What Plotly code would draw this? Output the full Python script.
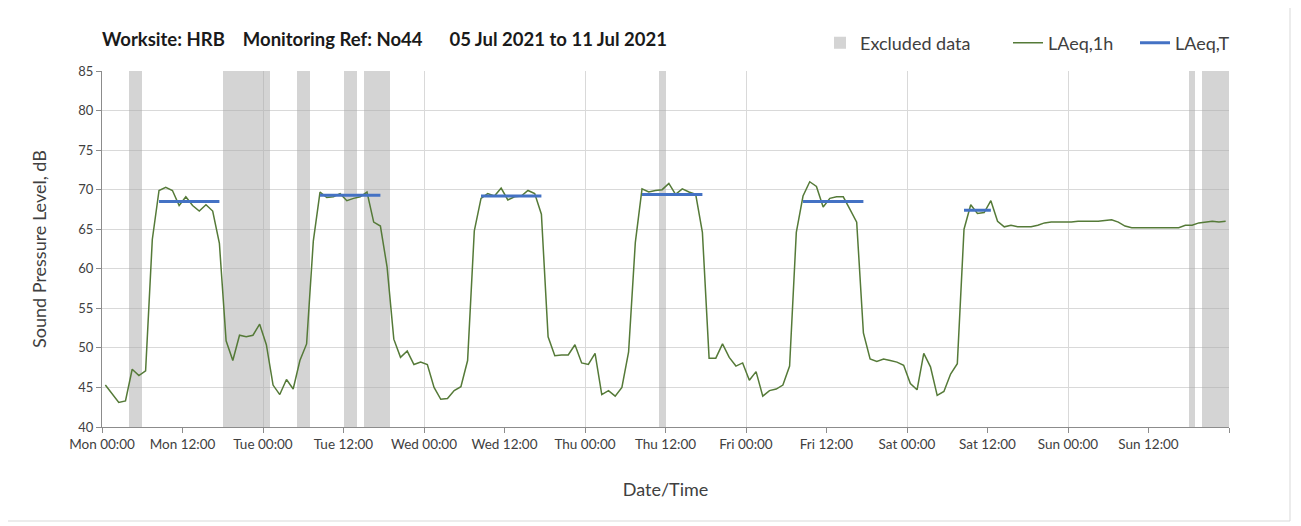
import numpy as np
import pandas as pd
import plotly.graph_objects as go

# ---------------- data ----------------
week_start = "2021-07-05 00:00"
week_end = "2021-07-12 00:00"

# hourly LAeq,1h values, Mon 00:00 -> Sun 23:00 (168 hours)
laeq_1h = [
    45.3, 44.2, 43.1, 43.3, 47.3, 46.5, 47.1, 63.7, 69.9, 70.3, 69.9, 68.0,
    69.1, 68.0, 67.3, 68.1, 67.3, 63.2, 50.9, 48.4, 51.6, 51.4, 51.6, 53.0,
    50.4, 45.3, 44.1, 46.0, 44.8, 48.4, 50.5, 63.5, 69.7, 69.0, 69.1, 69.5,
    68.6, 68.9, 69.1, 69.7, 65.9, 65.4, 60.2, 51.1, 48.8, 49.6, 47.9, 48.2,
    47.9, 45.0, 43.5, 43.6, 44.6, 45.1, 48.4, 64.8, 68.9, 69.5, 69.2, 70.2,
    68.7, 69.1, 69.2, 69.9, 69.5, 66.9, 51.4, 49.0, 49.1, 49.1, 50.4, 48.1,
    47.9, 49.3, 44.1, 44.6, 43.9, 45.0, 49.5, 63.3, 70.1, 69.7, 69.9, 70.0,
    70.8, 69.4, 70.1, 69.7, 69.4, 64.6, 48.7, 48.7, 50.5, 48.8, 47.7, 48.1,
    45.9, 47.0, 43.9, 44.6, 44.8, 45.3, 47.7, 64.6, 69.2, 71.0, 70.4, 67.8,
    68.9, 69.1, 69.1, 67.5, 65.9, 51.9, 48.6, 48.3, 48.6, 48.4, 48.2, 47.8,
    45.5, 44.7, 49.3, 47.6, 44.0, 44.5, 46.7, 48.0, 65.0, 68.1, 67.0, 67.1,
    68.6, 66.0, 65.3, 65.5, 65.3, 65.3, 65.3, 65.5, 65.8, 65.9, 65.9, 65.9,
    65.9, 66.0, 66.0, 66.0, 66.0, 66.1, 66.2, 65.9, 65.4, 65.2, 65.2, 65.2,
    65.2, 65.2, 65.2, 65.2, 65.2, 65.5, 65.5, 65.8, 65.9, 66.0, 65.9, 66.0,
]

# LAeq,T daytime periods (first and last hour index of each period)
laeqT_first = [8, 32, 56, 80, 104, 128]
laeqT_last = [17, 41, 65, 89, 113, 132]
laeqT_value = [68.5, 69.3, 69.2, 69.4, 68.5, 67.4]

# excluded data periods (start hour from Mon 00:00, duration in hours)
excl_start = [4, 18, 29, 36, 39, 83, 162, 164]
excl_hours = [2, 7, 2, 2, 4, 1, 1, 4]

# x tick labels every 12 hours (last tick at week end has no label)
tick_labels = ["Mon 00:00", "Mon 12:00", "Tue 00:00", "Tue 12:00", "Wed 00:00",
               "Wed 12:00", "Thu 00:00", "Thu 12:00", "Fri 00:00", "Fri 12:00",
               "Sat 00:00", "Sat 12:00", "Sun 00:00", "Sun 12:00", ""]

y_min, y_max = 40, 85

# ---------------- build ----------------
t0 = pd.Timestamp(week_start)
hour_times = [t0 + pd.Timedelta(hours=h + 0.5) for h in range(len(laeq_1h))]
tick_vals = [t0 + pd.Timedelta(hours=12 * k) for k in range(len(tick_labels))]

tx, ty = [], []
for a, b, v in zip(laeqT_first, laeqT_last, laeqT_value):
    tx += [hour_times[a], hour_times[b], None]
    ty += [v, v, None]

ex_x = [t0 + pd.Timedelta(hours=s + d / 2) for s, d in zip(excl_start, excl_hours)]
ex_w = [d * 3600000 for d in excl_hours]

FONT = "Lato"
TXT = "#404040"
GRID = "#d9d9d9"
AXIS = "#8c8c8c"

fig = go.Figure()
fig.add_trace(go.Bar(x=ex_x, y=[y_max - y_min] * len(ex_x), base=y_min, width=ex_w,
                     marker=dict(color="rgba(170,170,170,0.5)", line=dict(width=0)),
                     name="Excluded data", hoverinfo="skip", legend="legend"))
fig.add_trace(go.Scatter(x=hour_times, y=laeq_1h, mode="lines",
                         line=dict(color="#557a38", width=1.5), name="LAeq,1h", legend="legend2"))
fig.add_trace(go.Scatter(x=tx, y=ty, mode="lines", connectgaps=False,
                         line=dict(color="#4472c4", width=3), name="LAeq,T", legend="legend3"))

# page body has an 8px margin, so the figure is 8px smaller than the window
W, H = 1293, 518
L, R, T, B = 94, 72, 63, 99
pw, ph = W - L - R, H - T - B


def px_x(p):
    return (p - L) / pw


def px_y(p):
    return (H - B - p) / ph


leg = dict(orientation="h", xanchor="left", yanchor="middle", y=px_y(35),
           font=dict(family=FONT, size=18, color=TXT), bgcolor="rgba(0,0,0,0)")

fig.update_layout(
    width=W, height=H,
    margin=dict(l=L, r=R, t=T, b=B, autoexpand=False),
    paper_bgcolor="white", plot_bgcolor="white",
    font=dict(family=FONT, color=TXT, size=13),
    barmode="overlay", bargap=0,
    title=dict(text="<b>Worksite: HRB&nbsp;&nbsp;&nbsp;&nbsp;Monitoring Ref: No44&nbsp;&nbsp;&nbsp;&nbsp;&nbsp;&nbsp;05 Jul 2021 to 11 Jul 2021</b>",
               xref="paper", x=0, xanchor="left", y=1 - 32 / H, yanchor="middle",
               font=dict(family=FONT, size=18.5, color="#1a1a1a")),
    legend=dict(leg, x=px_x(812)),
    legend2=dict(leg, x=px_x(1000)),
    legend3=dict(leg, x=px_x(1127)),
    showlegend=True,
    xaxis=dict(range=[week_start, week_end], type="date", dtick=86400000, tick0=week_start,
               showgrid=True, gridcolor=GRID, gridwidth=1, showticklabels=False,
               ticks="", showline=False, zeroline=False),
    xaxis2=dict(range=[week_start, week_end], type="date", overlaying="x", anchor="y", side="bottom",
                tickmode="array", tickvals=tick_vals, ticktext=tick_labels,
                showgrid=False, ticks="outside", ticklen=5, tickcolor=AXIS,
                showline=True, linecolor=AXIS, linewidth=1,
                tickfont=dict(family=FONT, size=13.5, color=TXT),
                title=dict(text="Date/Time", standoff=32, font=dict(family=FONT, size=18, color=TXT))),
    yaxis=dict(range=[y_min, y_max], dtick=5, showgrid=True, gridcolor=GRID, gridwidth=1,
               ticks="outside", ticklen=5, tickcolor=AXIS, showline=True, linecolor=AXIS,
               zeroline=False, tickfont=dict(family=FONT, size=13, color=TXT),
               title=dict(text="Sound Pressure Level, dB", standoff=27,
                          font=dict(family=FONT, size=18, color=TXT))),
    shapes=[dict(type="rect", xref="paper", yref="paper",
                 x0=px_x(-3), x1=px_x(1282), y0=px_y(513), y1=px_y(-3),
                 line=dict(color=GRID, width=1), fillcolor="rgba(0,0,0,0)", layer="below")],
)
# invisible helper trace so the label axis is drawn
fig.add_trace(go.Scatter(x=[week_start], y=[y_min], xaxis="x2", mode="markers",
                         marker=dict(opacity=0), showlegend=False, hoverinfo="skip"))

fig.write_html("out.html")
